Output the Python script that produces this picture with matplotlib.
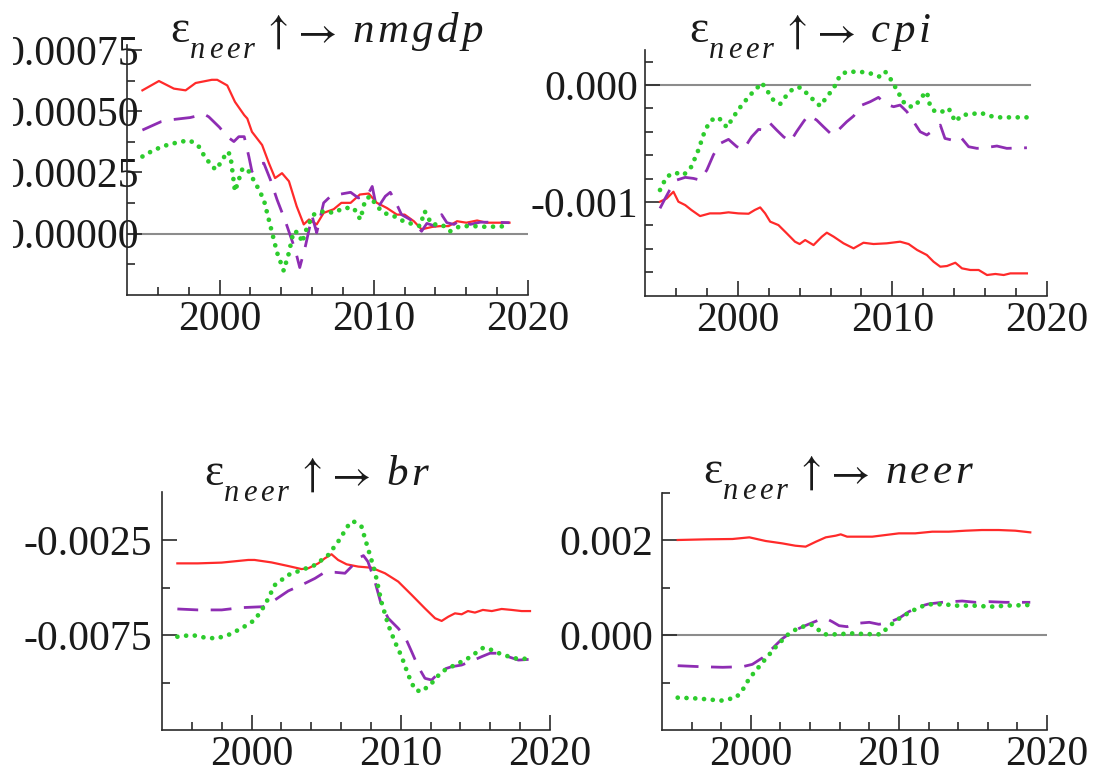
import matplotlib
matplotlib.use("Agg")
import matplotlib.pyplot as plt
from matplotlib.ticker import FixedLocator, FixedFormatter
from matplotlib.patches import Rectangle

plt.rcParams["font.family"] = ["Liberation Serif", "DejaVu Serif"]
plt.rcParams["mathtext.fontset"] = "stix"
plt.rcParams["axes.unicode_minus"] = False

# ---------------------------------------------------------------- data
# epsilon_neer shock -> nmgdp
nmgdp_solid_x = [1995.0, 1996.07, 1997.04, 1997.8, 1998.45, 1999.5, 1999.85, 2000.5, 2001.0, 2001.6,
                 2001.8, 2002.1, 2002.76, 2003.2, 2003.6, 2004.05, 2004.5, 2005.0, 2005.46, 2005.8,
                 2006.3, 2006.75, 2007.4, 2007.9, 2008.5, 2009.1, 2009.67, 2010.2, 2010.85, 2011.5,
                 2012.0, 2012.6, 2013.1, 2013.8, 2014.3, 2014.85, 2015.4, 2016.0, 2016.7, 2017.3, 2018.8]
nmgdp_solid_y = [585e-6, 623e-6, 592e-6, 585e-6, 615e-6, 628e-6, 628e-6, 605e-6, 538e-6, 484e-6,
                 470e-6, 416e-6, 362e-6, 288e-6, 227e-6, 247e-6, 214e-6, 112e-6, 38e-6, 58e-6,
                 38e-6, 85e-6, 100e-6, 126e-6, 126e-6, 160e-6, 164e-6, 126e-6, 105e-6, 78e-6,
                 78e-6, 51e-6, 18e-6, 28e-6, 31e-6, 31e-6, 51e-6, 45e-6, 54e-6, 45e-6, 45e-6]

nmgdp_dashed_x = [1995.0, 1996.2, 1997.0, 1998.1, 1999.0, 1999.3, 2000.0, 2000.5, 2000.93, 2001.25,
                  2001.6, 2001.9, 2002.1, 2002.44, 2002.87, 2003.3, 2003.73, 2004.27, 2004.6, 2004.9,
                  2005.2, 2005.57, 2006.0, 2006.3, 2006.75, 2007.2, 2007.7, 2008.5, 2009.0, 2009.56,
                  2009.9, 2010.2, 2010.75, 2011.07, 2011.4, 2011.8, 2012.36, 2012.8, 2013.1, 2013.44,
                  2014.0, 2014.4, 2014.74, 2015.2, 2015.6, 2016.25, 2016.9, 2017.8, 2018.8]
nmgdp_dashed_y = [423e-6, 457e-6, 466e-6, 474e-6, 488e-6, 477e-6, 434e-6, 396e-6, 376e-6, 396e-6,
                  396e-6, 315e-6, 254e-6, 281e-6, 288e-6, 220e-6, 139e-6, 51e-6, -10e-6, -64e-6,
                  -138e-6, -50e-6, 72e-6, 4e-6, 126e-6, 153e-6, 160e-6, 169e-6, 146e-6, 153e-6,
                  193e-6, 100e-6, 153e-6, 169e-6, 132e-6, 78e-6, 58e-6, 31e-6, 10e-6, 42e-6,
                  31e-6, 78e-6, 45e-6, 38e-6, 55e-6, 38e-6, 47e-6, 47e-6, 45e-6]

nmgdp_dotted_x = [1995.0, 1995.75, 1996.6, 1997.5, 1998.1, 1998.66, 1999.1, 1999.74, 2000.06, 2000.5,
                  2000.7, 2001.0, 2001.5, 2001.9, 2002.44, 2002.87, 2003.3, 2003.73, 2004.16, 2004.5,
                  2004.8, 2005.14, 2005.35, 2005.7, 2006.1, 2006.75, 2007.4, 2008.05, 2008.7, 2009.13,
                  2009.45, 2009.77, 2010.2, 2010.65, 2011.3, 2011.93, 2012.58, 2013.0, 2013.3, 2013.76,
                  2014.4, 2014.95, 2015.6, 2016.46, 2017.3, 2018.8]
nmgdp_dotted_y = [315e-6, 342e-6, 362e-6, 376e-6, 380e-6, 355e-6, 308e-6, 261e-6, 288e-6, 335e-6,
                  322e-6, 173e-6, 268e-6, 254e-6, 193e-6, 139e-6, 31e-6, -77e-6, -151e-6, -77e-6,
                  10e-6, 4e-6, -36e-6, 31e-6, 78e-6, 92e-6, 85e-6, 105e-6, 105e-6, 58e-6,
                  139e-6, 153e-6, 112e-6, 85e-6, 72e-6, 51e-6, 38e-6, 31e-6, 92e-6, 38e-6,
                  38e-6, 10e-6, 31e-6, 31e-6, 28e-6, 31e-6]

# epsilon_neer shock -> cpi
cpi_solid_x = [1994.97, 1995.4, 1995.84, 1996.16, 1996.6, 1997.0, 1997.56, 1998.2, 1998.86, 1999.4,
               2000.04, 2000.7, 2001.1, 2001.45, 2001.77, 2002.1, 2002.63, 2003.17, 2003.7, 2004.0,
               2004.36, 2004.9, 2005.44, 2005.76, 2006.2, 2006.84, 2007.49, 2008.13, 2008.78, 2009.64,
               2010.5, 2011.05, 2011.6, 2012.23, 2012.66, 2013.1, 2013.53, 2014.07, 2014.5, 2015.04,
               2015.58, 2016.12, 2016.66, 2017.2, 2017.63, 2018.7]
cpi_solid_y = [-997e-6, -970e-6, -912e-6, -997e-6, -1026e-6, -1068e-6, -1120e-6, -1097e-6, -1097e-6, -1088e-6,
               -1097e-6, -1100e-6, -1068e-6, -1046e-6, -1097e-6, -1168e-6, -1197e-6, -1268e-6, -1339e-6, -1359e-6,
               -1325e-6, -1368e-6, -1296e-6, -1262e-6, -1296e-6, -1353e-6, -1396e-6, -1348e-6, -1359e-6, -1353e-6,
               -1339e-6, -1359e-6, -1410e-6, -1453e-6, -1510e-6, -1553e-6, -1547e-6, -1519e-6, -1567e-6, -1581e-6,
               -1581e-6, -1624e-6, -1615e-6, -1624e-6, -1610e-6, -1610e-6]

cpi_dashed_x = [1994.97, 1995.3, 1995.6, 1996.05, 1996.6, 1997.13, 1997.56, 1998.0, 1998.42, 1998.86,
                1999.4, 1999.94, 2000.37, 2000.9, 2001.34, 2001.77, 2002.1, 2002.52, 2002.96, 2003.4,
                2003.8, 2004.25, 2004.57, 2005.1, 2005.54, 2006.1, 2006.5, 2007.05, 2007.49, 2008.03,
                2008.57, 2009.1, 2009.54, 2010.08, 2010.5, 2010.94, 2011.37, 2011.8, 2012.23, 2012.66,
                2013.1, 2013.4, 2013.85, 2014.4, 2014.93, 2015.47, 2016.12, 2016.76, 2017.4, 2018.7]
cpi_dashed_y = [-1054e-6, -970e-6, -897e-6, -812e-6, -789e-6, -798e-6, -812e-6, -726e-6, -598e-6, -499e-6,
                -464e-6, -527e-6, -550e-6, -442e-6, -379e-6, -385e-6, -328e-6, -385e-6, -442e-6, -484e-6,
                -399e-6, -313e-6, -256e-6, -299e-6, -356e-6, -427e-6, -385e-6, -313e-6, -265e-6, -171e-6,
                -142e-6, -105e-6, -162e-6, -185e-6, -171e-6, -228e-6, -313e-6, -399e-6, -427e-6, -385e-6,
                -342e-6, -456e-6, -470e-6, -442e-6, -527e-6, -541e-6, -533e-6, -521e-6, -541e-6, -536e-6]

cpi_dotted_x = [1994.97, 1995.4, 1995.94, 1996.5, 1997.0, 1997.45, 1997.9, 1998.3, 1998.75, 1999.3,
                1999.72, 2000.26, 2000.8, 2001.23, 2001.55, 2001.88, 2002.3, 2002.74, 2003.17, 2003.6,
                2004.03, 2004.47, 2004.9, 2005.33, 2005.76, 2006.2, 2006.62, 2007.05, 2007.92, 2008.57,
                2009.2, 2009.54, 2009.86, 2010.3, 2010.7, 2011.05, 2011.48, 2011.9, 2012.23, 2012.45,
                2012.77, 2013.2, 2013.64, 2014.07, 2014.5, 2015.15, 2015.68, 2016.33, 2016.98, 2017.84, 2018.7]
cpi_dotted_y = [-897e-6, -783e-6, -749e-6, -769e-6, -698e-6, -556e-6, -379e-6, -299e-6, -276e-6, -362e-6,
                -271e-6, -171e-6, -85e-6, -28e-6, 20e-6, -43e-6, -128e-6, -162e-6, -85e-6, -28e-6,
                -20e-6, -71e-6, -128e-6, -179e-6, -100e-6, -28e-6, 85e-6, 114e-6, 114e-6, 100e-6,
                71e-6, 114e-6, 57e-6, -43e-6, -142e-6, -185e-6, -179e-6, -100e-6, -57e-6, -185e-6,
                -228e-6, -228e-6, -199e-6, -313e-6, -256e-6, -248e-6, -236e-6, -265e-6, -276e-6, -276e-6, -276e-6]

# epsilon_neer shock -> br
br_solid_x = [1995.03, 1996.4, 1997.99, 1999.78, 2000.2, 2001.34, 2002.46, 2003.35, 2003.8, 2004.47,
              2004.92, 2005.36, 2005.8, 2006.37, 2007.15, 2008.04, 2008.94, 2009.83, 2010.73, 2011.62,
              2012.3, 2012.74, 2013.18, 2013.63, 2014.08, 2014.5, 2014.97, 2015.5, 2016.1, 2016.76,
              2017.43, 2018.1, 2018.66]
br_solid_y = [-0.00373, -0.00373, -0.00369, -0.00355, -0.00355, -0.00368, -0.00387, -0.00403, -0.00399, -0.00373,
              -0.00346, -0.00325, -0.00355, -0.00378, -0.00390, -0.00396, -0.00425, -0.00469, -0.00539, -0.00610,
              -0.00662, -0.00676, -0.00654, -0.00636, -0.00641, -0.00624, -0.00632, -0.00618, -0.00624, -0.00613,
              -0.00618, -0.00624, -0.00624]

br_dashed_x = [1995.03, 1996.4, 1998.0, 1999.3, 2000.8, 2001.56, 2002.46, 2003.35, 2004.25, 2004.9,
               2005.6, 2006.26, 2006.7, 2007.15, 2007.5, 2007.8, 2008.27, 2008.7, 2009.16, 2009.83,
               2010.28, 2010.73, 2011.17, 2011.62, 2012.07, 2012.74, 2013.4, 2014.08, 2014.75, 2015.42,
               2015.98, 2016.54, 2017.2, 2017.88, 2018.66]
br_dashed_y = [-0.00613, -0.00618, -0.00618, -0.00606, -0.00601, -0.00566, -0.00518, -0.00487, -0.00452, -0.00420,
               -0.00420, -0.00425, -0.00390, -0.00346, -0.00332, -0.00364, -0.00469, -0.00592, -0.00662, -0.00715,
               -0.00759, -0.00838, -0.00917, -0.00978, -0.00987, -0.00934, -0.00917, -0.00908, -0.00887, -0.00864,
               -0.00846, -0.00846, -0.00864, -0.00882, -0.00878]

br_dotted_x = [1995.03, 1996.0, 1996.9, 1997.65, 1998.44, 1999.33, 2000.22, 2000.9, 2001.56, 2002.46,
               2003.35, 2004.25, 2005.14, 2005.8, 2006.5, 2006.8, 2007.37, 2007.8, 2008.27, 2008.7,
               2009.16, 2009.6, 2010.06, 2010.5, 2010.95, 2011.4, 2012.07, 2012.74, 2013.63, 2014.5,
               2015.53, 2016.1, 2016.76, 2017.65, 2018.66]
br_dotted_y = [-0.00759, -0.00750, -0.00764, -0.00768, -0.00750, -0.00715, -0.00671, -0.00592, -0.00487, -0.00434,
               -0.00408, -0.00382, -0.00329, -0.00259, -0.00171, -0.00150, -0.00180, -0.00294, -0.00417, -0.00575,
               -0.00697, -0.00785, -0.00864, -0.00960, -0.01039, -0.01048, -0.01004, -0.00943, -0.00908, -0.00873,
               -0.00817, -0.00829, -0.00852, -0.00873, -0.00876]

# epsilon_neer shock -> neer
neer_solid_x = [1995.06, 1997.0, 1998.76, 1999.9, 2001.0, 2002.1, 2003.0, 2003.7, 2004.4, 2005.06,
                2005.73, 2006.07, 2006.5, 2007.3, 2008.2, 2009.1, 2010.0, 2011.1, 2012.25, 2013.37,
                2014.5, 2015.6, 2016.74, 2017.86, 2018.87]
neer_solid_y = [2000e-6, 2014e-6, 2021e-6, 2056e-6, 1979e-6, 1930e-6, 1880e-6, 1860e-6, 1965e-6, 2056e-6,
                2091e-6, 2119e-6, 2070e-6, 2070e-6, 2070e-6, 2105e-6, 2140e-6, 2140e-6, 2175e-6, 2175e-6,
                2196e-6, 2210e-6, 2210e-6, 2196e-6, 2161e-6]

neer_dashed_x = [1995.06, 1996.6, 1998.1, 1999.44, 2000.1, 2000.8, 2001.46, 2002.1, 2002.8, 2003.5,
                 2004.05, 2004.6, 2005.06, 2005.5, 2005.96, 2006.5, 2007.2, 2008.0, 2008.65, 2009.33,
                 2010.0, 2010.67, 2011.35, 2012.0, 2012.92, 2014.27, 2015.17, 2016.07, 2017.2, 2018.87]
neer_dashed_y = [-646e-6, -667e-6, -680e-6, -667e-6, -618e-6, -477e-6, -281e-6, -84e-6, 70e-6, 175e-6,
                 246e-6, 316e-6, 351e-6, 280e-6, 196e-6, 175e-6, 246e-6, 267e-6, 225e-6, 267e-6,
                 351e-6, 491e-6, 596e-6, 653e-6, 688e-6, 716e-6, 688e-6, 702e-6, 688e-6, 688e-6]

neer_dotted_x = [1995.06, 1996.18, 1997.08, 1997.98, 1999.0, 1999.44, 1999.9, 2000.46, 2001.12, 2001.8,
                 2002.47, 2003.15, 2004.05, 2004.5, 2004.94, 2005.84, 2006.74, 2007.64, 2008.76, 2009.44,
                 2010.1, 2010.8, 2011.46, 2012.13, 2013.03, 2013.93, 2015.06, 2016.18, 2017.3, 2018.87]
neer_dotted_y = [-1319e-6, -1333e-6, -1354e-6, -1382e-6, -1319e-6, -1158e-6, -912e-6, -702e-6, -456e-6, -210e-6,
                 0.0, 140e-6, 225e-6, 126e-6, 14e-6, 14e-6, 35e-6, 21e-6, 14e-6, 211e-6,
                 365e-6, 491e-6, 596e-6, 646e-6, 646e-6, 618e-6, 618e-6, 596e-6, 618e-6, 632e-6]

# ---------------------------------------------------------------- styling
W, H = 1102, 778
RED = "#ff2a2a"
PURPLE = "#8e2db3"
GREEN = "#2dcc2d"
AXIS_COLOR = "#2a2a2a"
TEXT_COLOR = "#1a1a1a"
LABEL_SIZE = 30

fig = plt.figure(figsize=(W / 100, H / 100), dpi=100)
fig.patch.set_facecolor("white")
renderer = fig.canvas.get_renderer()


def axes_px(left, right, top, bottom):
    """Add an axes given its box in pixel coordinates (origin top-left)."""
    return fig.add_axes([left / W, 1 - bottom / H, (right - left) / W, (bottom - top) / H])


def style_axes(ax, ylim, ymajor, ylabels, yminor, ypad, zero_line=None):
    ax.set_xlim(1994.0, 2020.0)
    ax.set_ylim(*ylim)
    for side in ("top", "right"):
        ax.spines[side].set_visible(False)
    for side in ("left", "bottom"):
        ax.spines[side].set_color(AXIS_COLOR)
        ax.spines[side].set_linewidth(1.2)
    ax.xaxis.set_major_locator(FixedLocator([2000, 2010, 2020]))
    ax.xaxis.set_major_formatter(FixedFormatter(["2000", "2010", "2020"]))
    ax.xaxis.set_minor_locator(FixedLocator(list(range(1996, 2020, 2))))
    ax.yaxis.set_major_locator(FixedLocator(ymajor))
    ax.yaxis.set_major_formatter(FixedFormatter(ylabels))
    ax.yaxis.set_minor_locator(FixedLocator(yminor))
    ax.tick_params(which="both", direction="in", color=AXIS_COLOR, width=1.2,
                   labelsize=LABEL_SIZE, labelcolor=TEXT_COLOR)
    ax.tick_params(which="major", length=10.5)
    ax.tick_params(which="minor", length=6)
    ax.tick_params(axis="x", which="major", pad=4)
    ax.tick_params(axis="y", which="major", pad=ypad)
    if zero_line is not None:
        ax.axhline(0, xmin=0, xmax=zero_line, color="#8c8c8c", lw=1.5, zorder=1)


def draw_series(ax, solid, dashed, dotted):
    ax.plot(*solid, color=RED, lw=1.6, zorder=3)
    ax.plot(*dashed, color=PURPLE, lw=2.0, dashes=(7.5, 4.5), zorder=4)
    ax.plot(*dotted, color=GREEN, lw=3.4, linestyle=(0, (0.01, 1.85)),
            dash_capstyle="round", zorder=5)


def spaced_word(x, y, word, size, gap, style="italic"):
    """Write a word letter by letter with extra tracking; returns the end x (pixels)."""
    for ch in word:
        t = fig.text(x / W, 1 - y / H, ch, fontsize=size, style=style, color=TEXT_COLOR,
                     ha="left", va="baseline")
        x += t.get_window_extent(renderer).width + gap
    return x


def panel_title(x, y, target):
    """epsilon_neer (up arrow) -> target, laid out from the left edge x at baseline y (pixels)."""
    fig.text(x / W, 1 - y / H, "\u03b5", fontsize=33, color=TEXT_COLOR, ha="left", va="baseline")
    spaced_word(x + 20, y + 16, "neer", 22, 3.5)
    fig.text((x + 91) / W, 1 - (y + 1) / H, r"$\uparrow$", fontsize=30, color=TEXT_COLOR,
             ha="left", va="baseline")
    fig.text((x + 121) / W, 1 - (y + 1) / H, r"$\rightarrow$", fontsize=31, color=TEXT_COLOR,
             ha="left", va="baseline")
    spaced_word(x + 182, y, target, 31, 3.5)


# top-left: nmgdp
ax1 = axes_px(127, 528, 45, 295)
style_axes(ax1, (-0.00025, 0.00077),
           [0.0, 0.00025, 0.0005, 0.00075], ["0.00000", "0.00025", "0.00050", "0.00075"],
           [-0.000125, 0.000125, 0.000375, 0.000625], ypad=-8.5, zero_line=1.0)
draw_series(ax1, (nmgdp_solid_x, nmgdp_solid_y), (nmgdp_dashed_x, nmgdp_dashed_y),
            (nmgdp_dotted_x, nmgdp_dotted_y))

# top-right: cpi
ax2 = axes_px(645, 1047, 50, 295.6)
style_axes(ax2, (-0.0018, 0.0003),
           [-0.001, 0.0], ["-0.001", "0.000"],
           [-0.0016, -0.0014, -0.0012, -0.0008, -0.0006, -0.0004, -0.0002, 0.0002],
           ypad=5, zero_line=0.958)
draw_series(ax2, (cpi_solid_x, cpi_solid_y), (cpi_dashed_x, cpi_dashed_y),
            (cpi_dotted_x, cpi_dotted_y))

# bottom-left: br
ax3 = axes_px(162, 550, 492.5, 730)
style_axes(ax3, (-0.0125, 0.0),
           [-0.0075, -0.0025], ["-0.0075", "-0.0025"],
           [-0.01, -0.005], ypad=7)
draw_series(ax3, (br_solid_x, br_solid_y), (br_dashed_x, br_dashed_y),
            (br_dotted_x, br_dotted_y))

# bottom-right: neer
ax4 = axes_px(662, 1047, 492.5, 730)
style_axes(ax4, (-0.002, 0.003),
           [0.0, 0.002], ["0.000", "0.002"],
           [-0.001, 0.001, 0.003], ypad=6.5, zero_line=1.0)
draw_series(ax4, (neer_solid_x, neer_solid_y), (neer_dashed_x, neer_dashed_y),
            (neer_dotted_x, neer_dotted_y))

# panel titles
panel_title(170, 42, "nmgdp")
panel_title(689, 42, "cpi")
panel_title(204, 485, "br")
panel_title(703, 483, "neer")

# blank margin strip on the far left edge
fig.patches.append(Rectangle((0, 0), 13 / W, 1, transform=fig.transFigure,
                             facecolor="white", edgecolor="none", zorder=10))

fig.savefig("out.png", dpi=100, facecolor="white")
